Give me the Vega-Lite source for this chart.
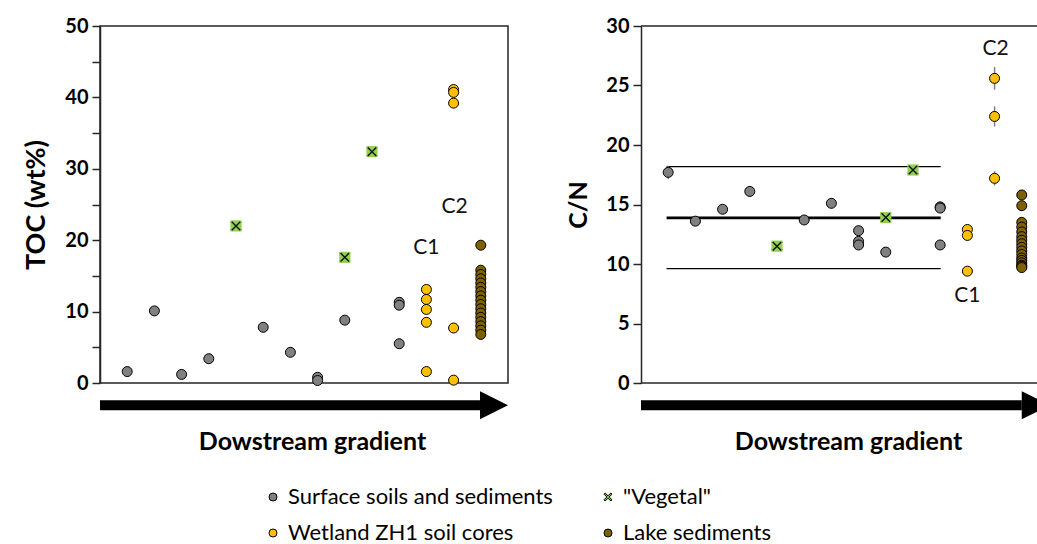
{
  "$schema": "https://vega.github.io/schema/vega-lite/v6.json",
  "padding": {"left": 22, "top": 15, "right": 0, "bottom": 0},
  "background": "white",
  "config": {
    "font": "Lato",
    "view": {"stroke": null},
    "concat": {"spacing": 57},
    "axis": {
      "labelFont": "Lato", "labelFontWeight": "bold", "labelFontSize": 20, "labelColor": "black",
      "titleFont": "Lato", "titleFontWeight": "bold", "titleFontSize": 25, "titleColor": "black",
      "domainColor": "#262626", "domainWidth": 1.5, "tickColor": "#262626", "tickWidth": 1.5, "grid": false
    },
    "legend": {"labelFont": "Lato"}
  },
  "datasets": {
    "toc": [
      {"type": "Surface soils and sediments", "i": 1, "toc": 1.6},
      {"type": "Surface soils and sediments", "i": 2, "toc": 10.1},
      {"type": "Surface soils and sediments", "i": 3, "toc": 1.2},
      {"type": "Surface soils and sediments", "i": 4, "toc": 3.4},
      {"type": "Surface soils and sediments", "i": 6, "toc": 7.8},
      {"type": "Surface soils and sediments", "i": 7, "toc": 4.3},
      {"type": "Surface soils and sediments", "i": 8, "toc": 0.8},
      {"type": "Surface soils and sediments", "i": 8, "toc": 0.35},
      {"type": "Surface soils and sediments", "i": 9, "toc": 8.8},
      {"type": "Surface soils and sediments", "i": 11, "toc": 11.3},
      {"type": "Surface soils and sediments", "i": 11, "toc": 10.9},
      {"type": "Surface soils and sediments", "i": 11, "toc": 5.5},
      {"type": "\"Vegetal\"", "i": 5, "toc": 22.0},
      {"type": "\"Vegetal\"", "i": 9, "toc": 17.6},
      {"type": "\"Vegetal\"", "i": 10, "toc": 32.4},
      {"type": "Wetland ZH1 soil cores", "i": 12, "toc": 13.1},
      {"type": "Wetland ZH1 soil cores", "i": 12, "toc": 11.7},
      {"type": "Wetland ZH1 soil cores", "i": 12, "toc": 10.3},
      {"type": "Wetland ZH1 soil cores", "i": 12, "toc": 8.5},
      {"type": "Wetland ZH1 soil cores", "i": 12, "toc": 1.6},
      {"type": "Wetland ZH1 soil cores", "i": 13, "toc": 41.1},
      {"type": "Wetland ZH1 soil cores", "i": 13, "toc": 40.7},
      {"type": "Wetland ZH1 soil cores", "i": 13, "toc": 39.2},
      {"type": "Wetland ZH1 soil cores", "i": 13, "toc": 7.7},
      {"type": "Wetland ZH1 soil cores", "i": 13, "toc": 0.4},
      {"type": "Lake sediments", "i": 14, "toc": 19.3},
      {"type": "Lake sediments", "i": 14, "toc": 15.8},
      {"type": "Lake sediments", "i": 14, "toc": 15.2},
      {"type": "Lake sediments", "i": 14, "toc": 14.6},
      {"type": "Lake sediments", "i": 14, "toc": 14.0},
      {"type": "Lake sediments", "i": 14, "toc": 13.4},
      {"type": "Lake sediments", "i": 14, "toc": 12.8},
      {"type": "Lake sediments", "i": 14, "toc": 12.2},
      {"type": "Lake sediments", "i": 14, "toc": 11.6},
      {"type": "Lake sediments", "i": 14, "toc": 11.0},
      {"type": "Lake sediments", "i": 14, "toc": 10.4},
      {"type": "Lake sediments", "i": 14, "toc": 9.8},
      {"type": "Lake sediments", "i": 14, "toc": 9.2},
      {"type": "Lake sediments", "i": 14, "toc": 8.6},
      {"type": "Lake sediments", "i": 14, "toc": 8.0},
      {"type": "Lake sediments", "i": 14, "toc": 7.4},
      {"type": "Lake sediments", "i": 14, "toc": 6.8}
    ],
    "cn": [
      {"type": "Surface soils and sediments", "i": 1, "cn": 17.7, "err": 0.55},
      {"type": "Surface soils and sediments", "i": 2, "cn": 13.6},
      {"type": "Surface soils and sediments", "i": 3, "cn": 14.6, "err": 0.35},
      {"type": "Surface soils and sediments", "i": 4, "cn": 16.1, "err": 0.45},
      {"type": "Surface soils and sediments", "i": 6, "cn": 13.7},
      {"type": "Surface soils and sediments", "i": 7, "cn": 15.1, "err": 0.45},
      {"type": "Surface soils and sediments", "i": 8, "cn": 12.8},
      {"type": "Surface soils and sediments", "i": 8, "cn": 11.9},
      {"type": "Surface soils and sediments", "i": 8, "cn": 11.6},
      {"type": "Surface soils and sediments", "i": 9, "cn": 11.0},
      {"type": "Surface soils and sediments", "i": 11, "cn": 14.8, "err": 0.45},
      {"type": "Surface soils and sediments", "i": 11, "cn": 14.7},
      {"type": "Surface soils and sediments", "i": 11, "cn": 11.6},
      {"type": "\"Vegetal\"", "i": 5, "cn": 11.5},
      {"type": "\"Vegetal\"", "i": 9, "cn": 13.9},
      {"type": "\"Vegetal\"", "i": 10, "cn": 17.9},
      {"type": "Wetland ZH1 soil cores", "i": 12, "cn": 12.9},
      {"type": "Wetland ZH1 soil cores", "i": 12, "cn": 12.4},
      {"type": "Wetland ZH1 soil cores", "i": 12, "cn": 9.4},
      {"type": "Wetland ZH1 soil cores", "i": 13, "cn": 25.6, "err": 0.95},
      {"type": "Wetland ZH1 soil cores", "i": 13, "cn": 22.4, "err": 0.85},
      {"type": "Wetland ZH1 soil cores", "i": 13, "cn": 17.2, "err": 0.6},
      {"type": "Lake sediments", "i": 14, "cn": 15.8},
      {"type": "Lake sediments", "i": 14, "cn": 14.9},
      {"type": "Lake sediments", "i": 14, "cn": 13.5},
      {"type": "Lake sediments", "i": 14, "cn": 13.1},
      {"type": "Lake sediments", "i": 14, "cn": 12.7},
      {"type": "Lake sediments", "i": 14, "cn": 12.3},
      {"type": "Lake sediments", "i": 14, "cn": 12.0},
      {"type": "Lake sediments", "i": 14, "cn": 11.7},
      {"type": "Lake sediments", "i": 14, "cn": 11.4},
      {"type": "Lake sediments", "i": 14, "cn": 11.1},
      {"type": "Lake sediments", "i": 14, "cn": 10.8},
      {"type": "Lake sediments", "i": 14, "cn": 10.5},
      {"type": "Lake sediments", "i": 14, "cn": 10.3},
      {"type": "Lake sediments", "i": 14, "cn": 10.1},
      {"type": "Lake sediments", "i": 14, "cn": 9.9},
      {"type": "Lake sediments", "i": 14, "cn": 9.8},
      {"type": "Lake sediments", "i": 14, "cn": 9.7}
    ],
    "tocArrow": [{"i": 0, "i2": 13.97, "toc": -3.12}],
    "tocHead": [{"i": 13.97, "toc": -3.12}],
    "cnArrow": [{"i": 0, "i2": 14.0, "cn": -1.87}],
    "cnHead": [{"i": 14.0, "cn": -1.87}],
    "tocLabels": [{"i": 12, "toc": 18.9, "label": "C1"}, {"i": 13.04, "toc": 24.6, "label": "C2"}],
    "cnLabels": [{"i": 13.04, "cn": 28.1, "label": "C2"}, {"i": 12, "cn": 7.3, "label": "C1"}],
    "cnFrame": [{"i": 0, "i2": 14.56, "cn": 30}, {"i": 0, "i2": 14.56, "cn": 0}],
    "cnLines": [
      {"i": 0.94, "i2": 11.02, "cn": 13.87, "kind": "mean"},
      {"i": 0.94, "i2": 11.02, "cn": 18.18, "kind": "sd"},
      {"i": 0.94, "i2": 11.02, "cn": 9.61, "kind": "sd"}
    ]
  },
  "hconcat": [
    {
      "width": 408,
      "height": 357,
      "view": {"stroke": "#262626", "strokeWidth": 1.5},
      "encoding": {
        "x": {"field": "i", "type": "quantitative", "scale": {"domain": [0, 15], "nice": false, "zero": false},
          "axis": {"title": "Dowstream gradient", "labels": false, "ticks": false, "domain": false, "titlePadding": 46, "titleX": 212}},
        "y": {"field": "toc", "type": "quantitative", "scale": {"domain": [0, 50], "nice": false},
          "axis": {"title": "TOC (wt%)", "titleFontSize": 27, "values": [0, 5, 10, 15, 20, 25, 30, 35, 40, 45, 50],
            "labelExpr": "datum.value % 10 === 0 ? datum.label : ''", "tickSize": 8, "labelPadding": 4, "titlePadding": 14}}
      },
      "layer": [
        {"data": {"name": "tocArrow"}, "mark": {"type": "rule", "strokeWidth": 10, "color": "black", "strokeCap": "butt"},
          "encoding": {"x2": {"field": "i2"}}},
        {"data": {"name": "tocHead"}, "mark": {"type": "point", "shape": "M 0 -1 L 2 0 L 0 1 Z", "size": 784, "filled": true, "color": "black", "opacity": 1}},
        {"data": {"name": "tocLabels"}, "mark": {"type": "text", "fontSize": 21, "font": "Lato", "color": "#111111"},
          "encoding": {"text": {"field": "label"}}},
        {"data": {"name": "toc"},
          "mark": {"type": "point", "filled": true, "size": 100, "stroke": "black", "strokeWidth": 1, "opacity": 1},
          "encoding": {
            "color": {"field": "type", "type": "nominal",
              "scale": {"domain": ["Surface soils and sediments", "\"Vegetal\"", "Wetland ZH1 soil cores", "Lake sediments"],
                "range": ["#808080", "#7cc242", "#FFC000", "#7F6000"]},
              "legend": {"title": null, "orient": "none", "legendX": 162, "legendY": 460, "columns": 2, "direction": "horizontal",
                "columnPadding": 44, "labelLimit": 500,
                "rowPadding": 14, "labelFontSize": 22, "labelColor": "black", "symbolSize": 64, "labelOffset": 4,
                "symbolStrokeWidth": 1, "symbolStrokeColor": "black"}},
            "shape": {"field": "type", "type": "nominal",
              "scale": {"domain": ["Surface soils and sediments", "\"Vegetal\"", "Wetland ZH1 soil cores", "Lake sediments"],
                "range": ["circle", "M -0.7 -1 L 0 -0.3 L 0.7 -1 L 1 -0.7 L 0.3 0 L 1 0.7 L 0.7 1 L 0 0.3 L -0.7 1 L -1 0.7 L -0.3 0 L -1 -0.7 Z", "circle", "circle"]}}
          }},
        {"data": {"name": "toc"}, "transform": [{"filter": {"field": "type", "equal": "\"Vegetal\""}}],
          "mark": {"type": "point", "shape": "square", "size": 125, "filled": true, "color": "#92D050", "opacity": 1}},
        {"data": {"name": "toc"}, "transform": [{"filter": {"field": "type", "equal": "\"Vegetal\""}}],
          "mark": {"type": "point", "shape": "M -0.85 -0.85 L 0.85 0.85 M -0.85 0.85 L 0.85 -0.85", "size": 100, "filled": false, "color": "#111111", "strokeWidth": 1.4, "opacity": 1}}
      ]
    },
    {
      "width": 396,
      "height": 357,
      "encoding": {
        "x": {"field": "i", "type": "quantitative", "scale": {"domain": [0, 14.56], "nice": false, "zero": false},
          "axis": {"title": "Dowstream gradient", "labels": false, "ticks": false, "domain": false, "titlePadding": 46, "titleX": 207}},
        "y": {"field": "cn", "type": "quantitative", "scale": {"domain": [0, 30], "nice": false},
          "axis": {"title": "C/N", "values": [0, 5, 10, 15, 20, 25, 30], "tickSize": 8, "labelPadding": 4, "titlePadding": 14}}
      },
      "layer": [
        {"data": {"name": "cnFrame"}, "mark": {"type": "rule", "strokeWidth": 1.5, "color": "#262626"},
          "encoding": {"x2": {"field": "i2"}}},
        {"data": {"name": "cnArrow"}, "mark": {"type": "rule", "strokeWidth": 10, "color": "black", "strokeCap": "butt"},
          "encoding": {"x2": {"field": "i2"}}},
        {"data": {"name": "cnHead"}, "mark": {"type": "point", "shape": "M 0 -1 L 1.09 -0.455 L 1.09 0.455 L 0 1 Z", "size": 784, "filled": true, "color": "black", "opacity": 1}},
        {"data": {"name": "cnLines"}, "transform": [{"filter": "datum.kind === 'sd'"}],
          "mark": {"type": "rule", "strokeWidth": 1.3, "color": "black"}, "encoding": {"x2": {"field": "i2"}}},
        {"data": {"name": "cnLines"}, "transform": [{"filter": "datum.kind === 'mean'"}],
          "mark": {"type": "rule", "strokeWidth": 2.7, "color": "black"}, "encoding": {"x2": {"field": "i2"}}},
        {"data": {"name": "cnLabels"}, "mark": {"type": "text", "fontSize": 21, "font": "Lato", "color": "#111111"},
          "encoding": {"text": {"field": "label"}}},
        {"data": {"name": "cn"}, "transform": [{"filter": "isValid(datum.err)"}],
          "mark": {"type": "errorbar", "color": "#7f7f7f", "thickness": 1.5},
          "encoding": {"yError": {"field": "err"}}},
        {"data": {"name": "cn"},
          "mark": {"type": "point", "filled": true, "size": 100, "stroke": "black", "strokeWidth": 1, "opacity": 1},
          "encoding": {
            "color": {"field": "type", "type": "nominal",
              "scale": {"domain": ["Surface soils and sediments", "\"Vegetal\"", "Wetland ZH1 soil cores", "Lake sediments"],
                "range": ["#808080", "#7cc242", "#FFC000", "#7F6000"]}},
            "shape": {"field": "type", "type": "nominal",
              "scale": {"domain": ["Surface soils and sediments", "\"Vegetal\"", "Wetland ZH1 soil cores", "Lake sediments"],
                "range": ["circle", "M -0.7 -1 L 0 -0.3 L 0.7 -1 L 1 -0.7 L 0.3 0 L 1 0.7 L 0.7 1 L 0 0.3 L -0.7 1 L -1 0.7 L -0.3 0 L -1 -0.7 Z", "circle", "circle"]}}
          }},
        {"data": {"name": "cn"}, "transform": [{"filter": {"field": "type", "equal": "\"Vegetal\""}}],
          "mark": {"type": "point", "shape": "square", "size": 125, "filled": true, "color": "#92D050", "opacity": 1}},
        {"data": {"name": "cn"}, "transform": [{"filter": {"field": "type", "equal": "\"Vegetal\""}}],
          "mark": {"type": "point", "shape": "M -0.85 -0.85 L 0.85 0.85 M -0.85 0.85 L 0.85 -0.85", "size": 100, "filled": false, "color": "#111111", "strokeWidth": 1.4, "opacity": 1}}
      ]
    }
  ]
}
